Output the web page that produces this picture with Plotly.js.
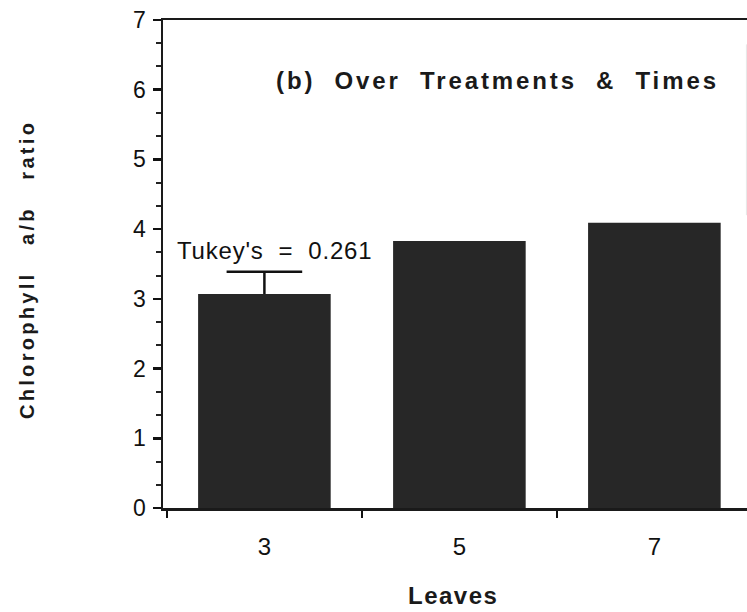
<!DOCTYPE html>
<html>
<head>
<meta charset="utf-8">
<script src="https://cdn.plot.ly/plotly-3.0.1.min.js"></script>
<style>
  html, body { margin: 0; padding: 0; background: #fff; overflow: hidden; }
  #chart { width: 747px; height: 612px; }
</style>
</head>
<body>
<div id="chart"></div>
<script>
// ---- data ----
const leaves = ['3', '5', '7'];
const chlRatio = [3.07, 3.83, 4.09];
const tukeyLeaf = ['3'];
const tukeyBase = [3.07];
const tukeyErr = [0.32];
const yTickVals = [0, 1, 2, 3, 4, 5, 6, 7];

const FONT = 'Liberation Sans, Arial, Helvetica, sans-serif';
const ls = (txt, px) => '<span style="letter-spacing:' + px + 'px">' + txt + '</span>';
const NB = '\u00A0';

const bars = {
  type: 'bar',
  x: leaves,
  y: chlRatio,
  width: 0.68,
  marker: { color: '#272727', line: { width: 0 } },
  hoverinfo: 'skip'
};

// stem of the Tukey bar (no caps)
const tukeyStem = {
  type: 'scatter',
  mode: 'none',
  x: tukeyLeaf,
  y: tukeyBase,
  error_y: {
    type: 'data',
    symmetric: false,
    array: tukeyErr,
    arrayminus: [0],
    color: '#111',
    thickness: 2.5,
    width: 0
  },
  hoverinfo: 'skip'
};

// cap of the Tukey bar
const tukeyCap = {
  type: 'scatter',
  mode: 'markers',
  x: tukeyLeaf,
  y: tukeyBase.map((b, i) => b + tukeyErr[i]),
  marker: { symbol: 'line-ew', size: 54, color: '#111', line: { color: '#111', width: 2.5 } },
  hoverinfo: 'skip'
};

const layout = {
  width: 747,
  height: 612,
  margin: { l: 163, r: 0, t: 20, b: 104, pad: 0 },
  paper_bgcolor: '#fff',
  plot_bgcolor: '#fff',
  showlegend: false,
  font: { family: FONT, color: '#111' },
  xaxis: {
    type: 'category',
    categoryarray: leaves,
    range: [-0.52, 2.475],
    tickson: 'boundaries',
    ticks: 'outside',
    ticklen: 7,
    tickwidth: 2.5,
    tickcolor: '#111',
    showline: true,
    linewidth: 2.5,
    linecolor: '#1a1a1a',
    mirror: true,
    showgrid: false,
    zeroline: false,
    tickfont: { family: FONT, size: 24, color: '#111' },
    ticklabelstandoff: 16
  },
  yaxis: {
    range: [0, 7],
    tickvals: yTickVals,
    ticks: 'outside',
    ticklen: 8,
    tickwidth: 2.5,
    tickcolor: '#111',
    showline: true,
    linewidth: 2.5,
    linecolor: '#1a1a1a',
    showgrid: false,
    zeroline: false,
    tickfont: { family: FONT, size: 23, color: '#111' },
    ticklabelstandoff: 2,
    minor: { dtick: 1 / 3, ticks: 'outside', ticklen: 5, tickwidth: 2, tickcolor: '#222', showgrid: false }
  },
  shapes: [
    { type: 'line', xref: 'paper', yref: 'paper', x0: 0.999, x1: 0.999, y0: 0.6, y1: 0.95,
      line: { color: '#e6e6e6', width: 1 } }
  ],
  annotations: [
    {
      text: ls('(b)' + NB + NB + 'Over' + NB + NB + 'Treatments' + NB + NB + '&amp;' + NB + NB + 'Times', 2.9),
      xref: 'paper', yref: 'paper', x: (497 - 163) / 584, y: 1 - (80 - 20) / 488,
      xanchor: 'center', yanchor: 'middle', showarrow: false,
      font: { family: FONT, size: 24, color: '#1a1a1a', weight: 'bold' }
    },
    {
      text: ls('Tukey\'s' + NB + NB + '=' + NB + NB + '0.261', 0.8),
      xref: 'paper', yref: 'paper', x: (274 - 163) / 584, y: (508 - 250) / 488,
      xanchor: 'center', yanchor: 'middle', showarrow: false,
      font: { family: FONT, size: 24, color: '#111' }
    },
    {
      text: ls('Leaves', 1.5),
      xref: 'paper', yref: 'paper', x: (453 - 163) / 584, y: -(595 - 508) / 488,
      xanchor: 'center', yanchor: 'middle', showarrow: false,
      font: { family: FONT, size: 24, color: '#1a1a1a', weight: 'bold' }
    },
    {
      text: ls('Chlorophyll' + NB + NB + NB + 'a/b' + NB + NB + NB + 'ratio', 3.3),
      xref: 'paper', yref: 'paper', x: -(163 - 27) / 584, y: 1 - (270 - 20) / 488,
      xanchor: 'center', yanchor: 'middle', showarrow: false, textangle: -90,
      font: { family: FONT, size: 20, color: '#1a1a1a', weight: 'bold' }
    }
  ]
};

Plotly.newPlot('chart', [bars, tukeyStem, tukeyCap], layout, { staticPlot: true, displayModeBar: false });
</script>
</body>
</html>
